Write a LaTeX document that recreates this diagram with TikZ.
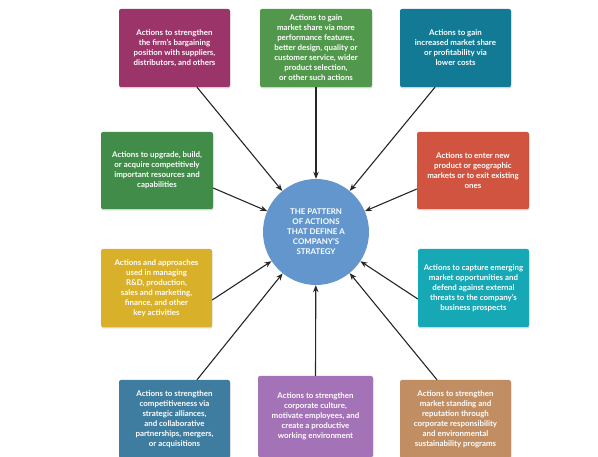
\documentclass[tikz,border=0pt]{standalone}
\usepackage{fontspec}
\setmainfont{Lato}
\usetikzlibrary{arrows.meta,shadows}
\definecolor{cMag}{RGB}{155,53,105}
\definecolor{cGreenT}{RGB}{82,152,76}
\definecolor{cTeal}{RGB}{18,122,148}
\definecolor{cGreenL}{RGB}{64,140,72}
\definecolor{cRed}{RGB}{208,84,64}
\definecolor{cCircle}{RGB}{98,150,205}
\definecolor{cYellow}{RGB}{216,176,42}
\definecolor{cCyan}{RGB}{22,168,180}
\definecolor{cBlue}{RGB}{62,125,160}
\definecolor{cPurple}{RGB}{164,114,182}
\definecolor{cTan}{RGB}{192,142,98}
\tikzset{
  box/.style={rectangle, rounded corners=2pt, text=white, align=center,
    font=\fontsize{7.9}{10}\selectfont\bfseries, inner sep=2pt,
    minimum width=111pt, minimum height=78pt,
    drop shadow={shadow xshift=0.4pt, shadow yshift=-1.4pt, opacity=0.35}},
  hub/.style={circle, fill=cCircle, text=white, align=center,
    font=\fontsize{7.9}{10}\selectfont\bfseries, minimum size=106pt, inner sep=0pt},
  arr/.style={-{Stealth[length=7pt,width=5.5pt]}, line width=1.1pt, draw=black!85}
}
\begin{document}
\begin{tikzpicture}[x=1pt,y=-1pt]
\useasboundingbox (0,0) rectangle (598,457);
\node[hub] (c) at (316,232) {THE PATTERN\\OF ACTIONS\\THAT DEFINE A\\COMPANY'S\\STRATEGY};
\node[box, fill=cMag] (b1) at (174.5,48) {Actions to strengthen\\the firm's bargaining\\position with suppliers,\\distributors, and others};
\node[box, fill=cGreenT, minimum width=112pt] (b2) at (316,48) {Actions to gain\\market share via more\\performance features,\\better design, quality or\\customer service, wider\\product selection,\\or other such actions};
\node[box, fill=cTeal] (b3) at (455.5,48) {Actions to gain\\increased market share\\or profitability via\\lower costs};
\node[box, fill=cGreenL, minimum width=112pt, minimum height=77pt] (b4) at (157,170.5) {Actions to upgrade, build,\\or acquire competitively\\important resources and\\capabilities};
\node[box, fill=cRed, minimum width=112pt, minimum height=77pt] (b5) at (473,170.5) {Actions to enter new\\product or geographic\\markets or to exit existing\\ones};
\node[box, fill=cYellow] (b7) at (156.5,288) {Actions and approaches\\used in managing\\R\&D, production,\\sales and marketing,\\finance, and other\\key activities};
\node[box, fill=cCyan] (b8) at (473.5,288) {Actions to capture emerging\\market opportunities and\\defend against external\\threats to the company's\\business prospects};
\node[box, fill=cBlue] (b9) at (174.5,419) {Actions to strengthen\\competitiveness via\\strategic alliances,\\and collaborative\\partnerships, mergers,\\or acquisitions};
\node[box, fill=cPurple, minimum width=115pt, minimum height=81pt] (b10) at (315.5,416.5) {Actions to strengthen\\corporate culture,\\motivate employees, and\\create a productive\\working environment};
\node[box, fill=cTan] (b11) at (455.5,419) {Actions to strengthen\\market standing and\\reputation through\\corporate responsibility\\and environmental\\sustainability programs};
\draw[arr] ([xshift=22.5pt]b1.south) -- (c);
\draw[arr] (b2.south) -- (c);
\draw[arr] ([xshift=-20.5pt]b3.south) -- (c);
\draw[arr] ([yshift=-17.5pt]b4.east) -- (c);
\draw[arr] ([yshift=-18.5pt]b5.west) -- (c);
\draw[arr] ([yshift=-12pt]b7.east) -- (c);
\draw[arr] ([yshift=-11pt]b8.west) -- (c);
\draw[arr] ([xshift=22.5pt]b9.north) -- (c);
\draw[arr] (b10.north) -- (c);
\draw[arr] ([xshift=-18.5pt]b11.north) -- (c);
\end{tikzpicture}
\end{document}
